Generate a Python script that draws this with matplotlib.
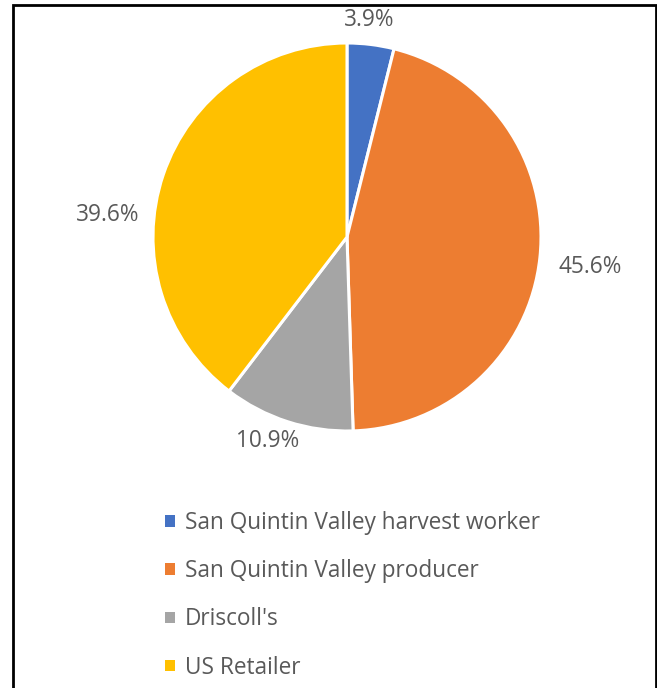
import matplotlib
matplotlib.use("Agg")
import matplotlib.pyplot as plt
from matplotlib.patches import Rectangle, Patch

categories = ["San Quintin Valley harvest worker", "San Quintin Valley producer",
              "Driscoll's", "US Retailer"]
shares = [3.9, 45.6, 10.9, 39.6]
colors = ["#4472C4", "#ED7D31", "#A5A5A5", "#FFC000"]
text_color = "#595959"

W, H = 657, 688
fig = plt.figure(figsize=(W / 100, H / 100), dpi=100)
fig.patch.set_facecolor("white")

# pie area: centre (347, 237) px, radius 194 px
cx, cy, r = 347, 237, 194
ax = fig.add_axes([(cx - r) / W, (H - cy - r) / H, 2 * r / W, 2 * r / H])
wedges, _ = ax.pie(shares, colors=colors, startangle=90, counterclock=False,
                   radius=1.0, wedgeprops=dict(edgecolor="white", linewidth=2.2))
ax.set_xlim(-1, 1)
ax.set_ylim(-1, 1)
ax.set_aspect("equal")
ax.axis("off")

# data label positions (in pie radius units)
label_pos = [(0.113, 1.12), (1.253, -0.155), (-0.41, -1.052), (-1.232, 0.113)]
for v, (x, y) in zip(shares, label_pos):
    ax.text(x, y, f"{v:.1f}%", ha="center", va="center", fontsize=16.3,
            family="Open Sans", color=text_color)

handles = [Patch(facecolor=c, edgecolor="none") for c in colors]
leg = fig.legend(handles, categories, loc="upper left",
                 bbox_to_anchor=(165 / W, 1 - 511 / H), frameon=False,
                 prop=dict(family="Open Sans", size=16.3),
                 handlelength=0.42, handleheight=0.42, handletextpad=0.45,
                 labelspacing=1.07, borderaxespad=0, borderpad=0)
for t in leg.get_texts():
    t.set_color(text_color)

# outer frame
frame = Rectangle((12.5 / W, -0.05), (656 - 12.5) / W, (H - 4.5) / H + 0.05,
                  transform=fig.transFigure, fill=False, edgecolor="black",
                  linewidth=2.0)
fig.patches.append(frame)

fig.savefig("out.png", dpi=100)
